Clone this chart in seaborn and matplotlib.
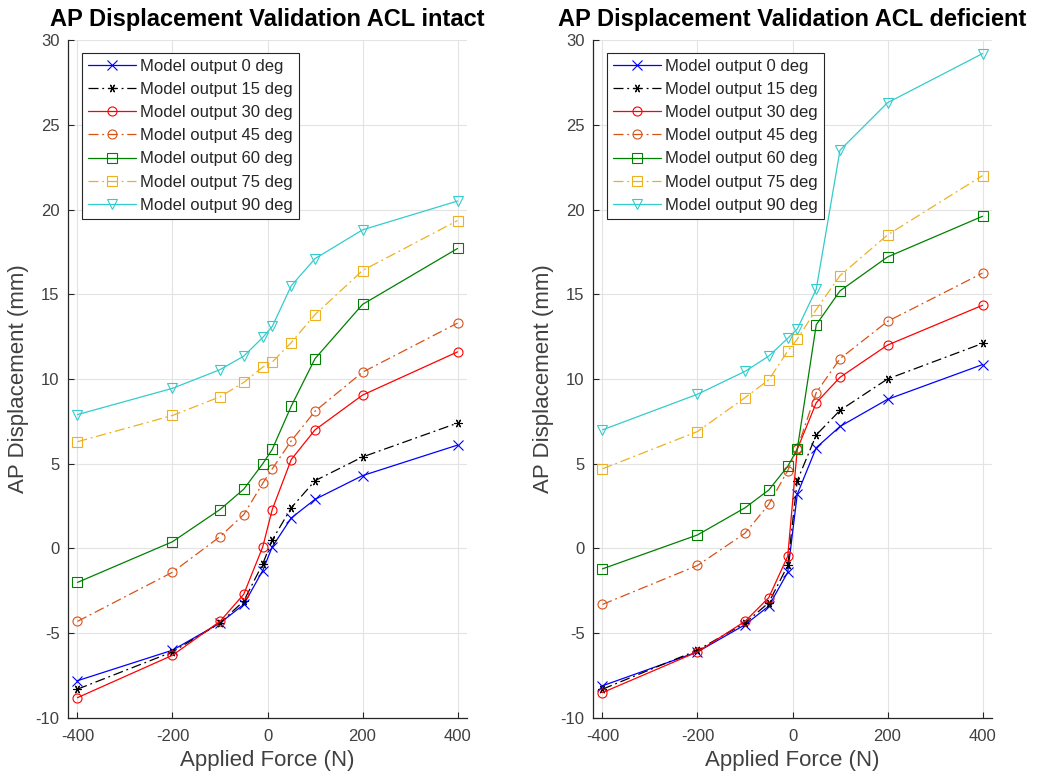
import matplotlib
matplotlib.use("Agg")
import matplotlib.pyplot as plt
import seaborn as sns
import pandas as pd

force = [-400, -200, -100, -50, -10, 10, 50, 100, 200, 400]
angles = ["0", "15", "30", "45", "60", "75", "90"]

intact_0 = [-7.8, -6.0, -4.4, -3.3, -1.3, 0.1, 1.8, 2.9, 4.3, 6.1]
intact_15 = [-8.3, -6.1, -4.4, -3.1, -0.9, 0.5, 2.4, 4.0, 5.4, 7.4]
intact_30 = [-8.8, -6.3, -4.3, -2.7, 0.1, 2.3, 5.25, 7.0, 9.05, 11.6]
intact_45 = [-4.3, -1.4, 0.7, 2.0, 3.85, 4.7, 6.35, 8.1, 10.4, 13.3]
intact_60 = [-2.0, 0.4, 2.3, 3.5, 5.0, 5.85, 8.4, 11.2, 14.4, 17.7]
intact_75 = [6.3, 7.85, 8.95, 9.8, 10.7, 11.0, 12.15, 13.8, 16.4, 19.35]
intact_90 = [7.9, 9.45, 10.55, 11.35, 12.45, 13.1, 15.5, 17.1, 18.8, 20.5]

defic_0 = [-8.1, -6.1, -4.5, -3.4, -1.4, 3.2, 5.95, 7.2, 8.8, 10.85]
defic_15 = [-8.3, -6.0, -4.4, -3.2, -1.0, 4.0, 6.7, 8.15, 10.0, 12.1]
defic_30 = [-8.5, -6.1, -4.3, -2.9, -0.45, 5.85, 8.6, 10.1, 12.0, 14.35]
defic_45 = [-3.3, -1.0, 0.9, 2.6, 4.6, 5.9, 9.2, 11.2, 13.4, 16.25]
defic_60 = [-1.2, 0.8, 2.4, 3.45, 4.85, 5.85, 13.2, 15.2, 17.2, 19.6]
defic_75 = [4.7, 6.9, 8.9, 9.95, 11.65, 12.35, 14.1, 16.1, 18.5, 22.0]
defic_90 = [7.0, 9.1, 10.45, 11.35, 12.4, 12.95, 15.3, 23.5, 26.3, 29.2]

intact = [intact_0, intact_15, intact_30, intact_45, intact_60, intact_75, intact_90]
defic = [defic_0, defic_15, defic_30, defic_45, defic_60, defic_75, defic_90]

titles = ["AP Displacement Validation ACL intact", "AP Displacement Validation ACL deficient"]
xticks = [-400, -200, 0, 200, 400]
yticks = [-10, -5, 0, 5, 10, 15, 20, 25, 30]

colors = ["#0000FF", "#000000", "#FF0000", "#D95319", "#008000", "#EDB120", "#33CCCC"]
markers = ["x", (6, 2, 30), "o", "o", "s", "s", "v"]
msizes = [6.5, 6.0, 6.5, 6.5, 6.5, 6.5, 6.5]
dashdot = (0, (8, 3, 1.5, 3))
styles = ["-", dashdot, "-", dashdot, "-", dashdot, "-"]

sns.set_theme(style="whitegrid")
plt.rcParams["font.family"] = ["Liberation Sans", "DejaVu Sans"]
plt.rcParams["axes.unicode_minus"] = False

fig = plt.figure(figsize=(10.54, 7.80), dpi=100)
ax1 = fig.add_axes([0.0645, 0.0795, 0.3786, 0.8692])
ax2 = fig.add_axes([0.5626, 0.0795, 0.3786, 0.8692])

tc = "#262626"
lc = "#404040"
for ax, data, title in [(ax1, intact, titles[0]), (ax2, defic, titles[1])]:
    for vals, ang, c, m, ms, ls in zip(data, angles, colors, markers, msizes, styles):
        df = pd.DataFrame({"force": force, "disp": vals})
        sns.lineplot(data=df, x="force", y="disp", ax=ax, color=c, marker=m,
                     linestyle=ls, linewidth=0.9, markersize=ms,
                     markerfacecolor="none", markeredgecolor=c, markeredgewidth=0.8,
                     label=f"Model output {ang} deg", sort=False)
    ax.set_xlim(-420, 420)
    ax.set_ylim(-10, 30)
    ax.set_xticks(xticks)
    ax.set_yticks(yticks)
    ax.set_facecolor("white")
    ax.grid(True, color="#E3E3E3", linewidth=0.8)
    for s in ["top", "right"]:
        ax.spines[s].set_visible(False)
    for s in ["left", "bottom"]:
        ax.spines[s].set_color(tc)
        ax.spines[s].set_linewidth(0.9)
    ax.tick_params(direction="in", length=4, width=0.8, color=tc, labelcolor=lc,
                   labelsize=12, left=True, bottom=True)
    ax.tick_params(axis="x", pad=8)
    ax.tick_params(axis="y", pad=6)
    ax.set_xlabel("Applied Force (N)", fontsize=16, color=lc, labelpad=4)
    ax.set_ylabel("AP Displacement (mm)", fontsize=16, color=lc, labelpad=5)
    ax.set_title(title, fontsize=17, fontweight="bold", color="black", pad=10)
    leg = ax.legend(loc="upper left", bbox_to_anchor=(0.035, 0.981), fontsize=12,
                    frameon=True, fancybox=False, edgecolor="#262626",
                    framealpha=1, handlelength=2.9, handletextpad=0.25,
                    labelspacing=0.49, borderpad=0.35, borderaxespad=0)
    leg.get_frame().set_linewidth(0.8)
    for t in leg.get_texts():
        t.set_color(tc)

fig.savefig("out.png", dpi=100, facecolor="white")
